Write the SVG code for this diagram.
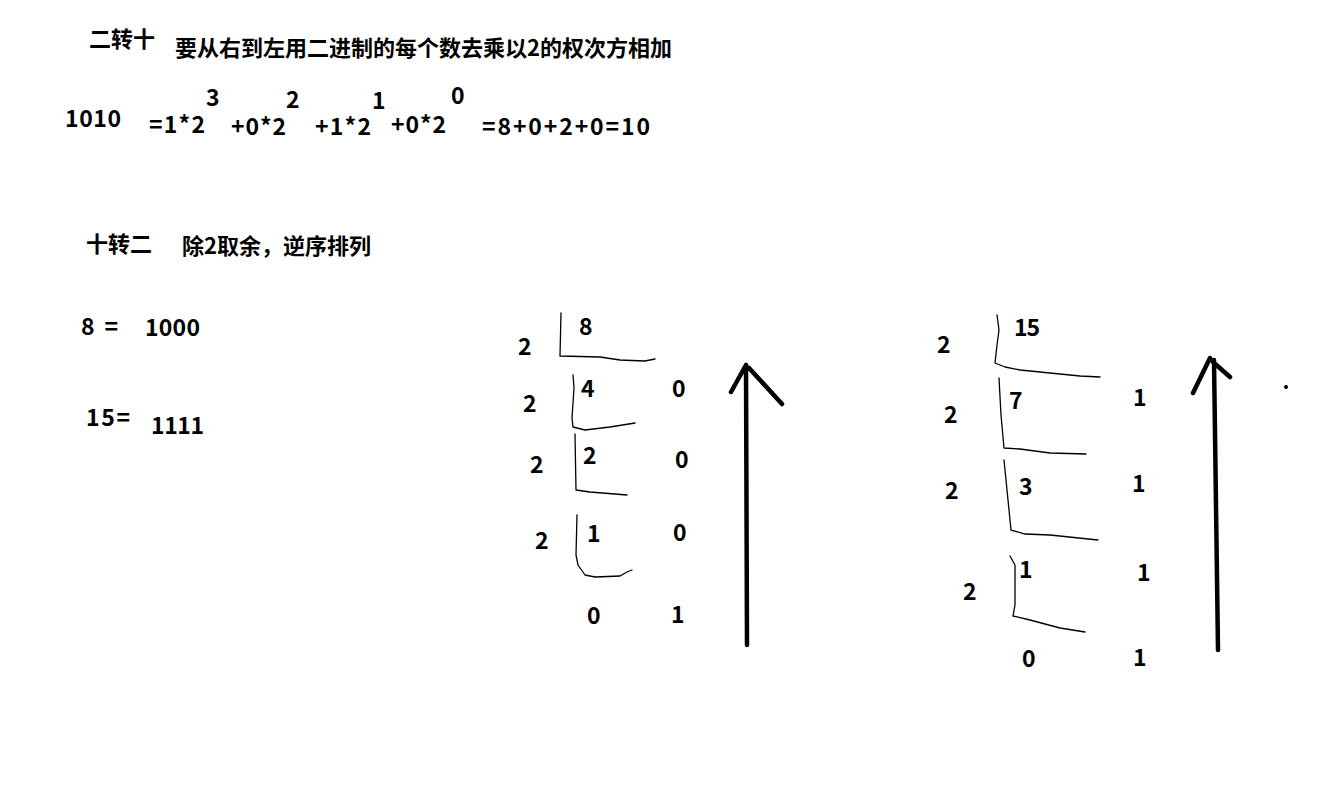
<svg xmlns="http://www.w3.org/2000/svg" width="1319" height="811" viewBox="0 0 1319 811">
<style>
text{font-family:"Noto Sans CJK SC","Liberation Sans",sans-serif;font-weight:bold;font-size:22px;fill:#000}
.n{font-size:23px}
.t{fill:none;stroke:#000;stroke-width:1.3;stroke-linejoin:round;stroke-linecap:round}
.a{fill:none;stroke:#000;stroke-width:4.5;stroke-linecap:round;stroke-linejoin:round}
</style>
<rect width="1319" height="811" fill="#fff"/>
<g id="bin2dec">
<text x="89" y="47">二转十</text>
<text x="175" y="56">要从右到左用二进制的每个数去乘以2的权次方相加</text>
<text class="n" x="65" y="127" textLength="56" lengthAdjust="spacing">1010</text>
<text class="n" x="149" y="133" textLength="56" lengthAdjust="spacing">=1*2</text>
<text class="n" x="206" y="106">3</text>
<text class="n" x="231" y="135" textLength="55" lengthAdjust="spacing">+0*2</text>
<text class="n" x="286" y="108">2</text>
<text class="n" x="315" y="135" textLength="56" lengthAdjust="spacing">+1*2</text>
<text class="n" x="372" y="109">1</text>
<text class="n" x="391" y="133" textLength="55" lengthAdjust="spacing">+0*2</text>
<text class="n" x="451" y="104">0</text>
<text class="n" x="482" y="135" textLength="168" lengthAdjust="spacing">=8+0+2+0=10</text>
</g>
<g id="dec2bin">
<text x="86" y="252">十转二</text>
<text x="182" y="254">除2取余，逆序排列</text>
<text class="n" x="81" y="335" textLength="37" lengthAdjust="spacing">8 =</text>
<text class="n" x="145" y="336" textLength="55" lengthAdjust="spacing">1000</text>
<text class="n" x="86" y="426" textLength="44" lengthAdjust="spacing">15=</text>
<text class="n" x="151" y="434" textLength="53" lengthAdjust="spacing">1111</text>
</g>
<g id="div8">
<text class="n" x="518" y="355">2</text>
<text class="n" x="579" y="335">8</text>
<text class="n" x="523" y="412">2</text>
<text class="n" x="581" y="397">4</text>
<text class="n" x="672" y="397">0</text>
<text class="n" x="530" y="473">2</text>
<text class="n" x="583" y="464">2</text>
<text class="n" x="675" y="468">0</text>
<text class="n" x="535" y="549">2</text>
<text class="n" x="587" y="542">1</text>
<text class="n" x="673" y="541">0</text>
<text class="n" x="587" y="624">0</text>
<text class="n" x="671" y="623">1</text>
<path class="t" d="M561,313 L560,356 L600,357 L620,360 L645,361 L655,359"/>
<path class="t" d="M573,375 L574,388 L572,418 L573,427 L585,430 L610,427 L635,423"/>
<path class="t" d="M575,434 L576,490 L590,492 L627,495"/>
<path class="t" d="M577,515 L576,555 L578,565 L585,575 L595,577 L620,576 L627,572 L632,570"/>
<path class="a" d="M747,645 L746,365 M731,392 L746,365 M749,368 L782,404"/>
</g>
<g id="div15">
<text class="n" x="937" y="353">2</text>
<text class="n" x="1014" y="336" textLength="26" lengthAdjust="spacing">15</text>
<text class="n" x="944" y="423">2</text>
<text class="n" x="1009" y="409">7</text>
<text class="n" x="1133" y="406">1</text>
<text class="n" x="945" y="499">2</text>
<text class="n" x="1019" y="495">3</text>
<text class="n" x="1132" y="492">1</text>
<text class="n" x="963" y="600">2</text>
<text class="n" x="1019" y="578">1</text>
<text class="n" x="1137" y="581">1</text>
<text class="n" x="1022" y="667">0</text>
<text class="n" x="1133" y="666">1</text>
<path class="t" d="M997,315 L999,330 L997,345 L995,363 L1005,367 L1020,370 L1080,376 L1100,377"/>
<path class="t" d="M999,378 L1001,415 L1004,448 L1020,449 L1050,453 L1086,454"/>
<path class="t" d="M1004,460 L1008,500 L1011,530 L1025,534 L1050,535 L1098,540"/>
<path class="t" d="M1010,556 L1015,565 L1015,605 L1013,616 L1030,620 L1060,628 L1085,632"/>
<path class="a" d="M1218,650 L1214,360 M1193,393 L1210,358 M1213,362 L1230,377"/>
<circle cx="1286" cy="387" r="2" fill="#000"/>
</g>
</svg>
